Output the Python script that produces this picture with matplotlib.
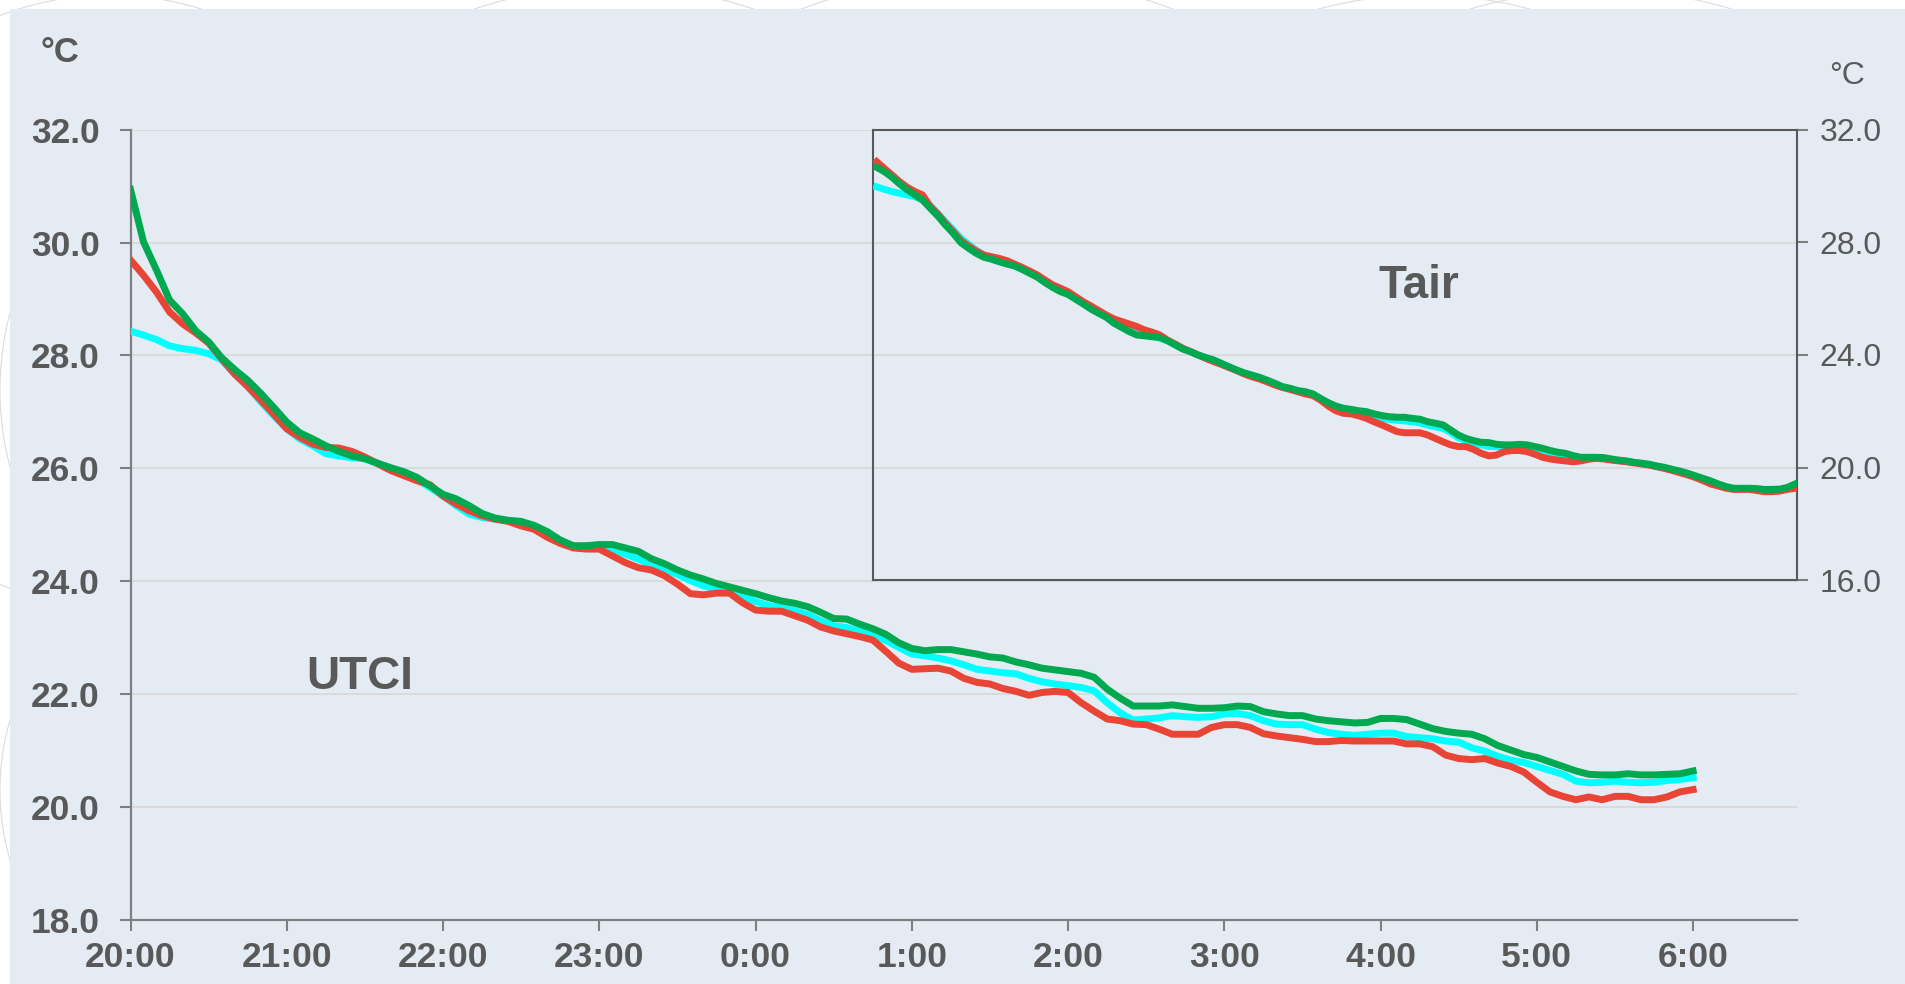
import matplotlib
matplotlib.use("Agg")
from matplotlib import pyplot as plt
from matplotlib.patches import Rectangle, Circle
from matplotlib.transforms import IdentityTransform

# minutes after 20:00, one reading every 5 minutes
minutes = list(range(0, 605, 5))
hour_ticks = [0, 60, 120, 180, 240, 300, 360, 420, 480, 540, 600]
hour_labels = ["20:00", "21:00", "22:00", "23:00", "0:00", "1:00", "2:00", "3:00", "4:00", "5:00", "6:00"]

utci_cyan = [28.43, 28.36, 28.28, 28.17, 28.12, 28.09, 28.03, 27.92, 27.67, 27.45, 27.18, 26.93, 26.70, 26.52, 26.40, 26.26, 26.22, 26.19, 26.17, 26.08,
             25.97, 25.90, 25.80, 25.66, 25.51, 25.34, 25.19, 25.13, 25.10, 25.07, 25.02, 24.95, 24.82, 24.70, 24.61, 24.61, 24.61, 24.57, 24.48, 24.39,
             24.30, 24.21, 24.12, 24.01, 23.92, 23.86, 23.82, 23.74, 23.64, 23.57, 23.53, 23.48, 23.41, 23.30, 23.21, 23.18, 23.12, 23.04, 22.95, 22.83,
             22.71, 22.68, 22.64, 22.59, 22.52, 22.44, 22.41, 22.38, 22.36, 22.28, 22.22, 22.18, 22.15, 22.12, 22.06, 21.85, 21.67, 21.54, 21.56, 21.58,
             21.62, 21.60, 21.59, 21.60, 21.65, 21.66, 21.62, 21.53, 21.47, 21.46, 21.46, 21.38, 21.32, 21.29, 21.27, 21.29, 21.31, 21.31, 21.25, 21.23,
             21.21, 21.17, 21.15, 21.05, 20.99, 20.90, 20.83, 20.79, 20.72, 20.65, 20.58, 20.46, 20.43, 20.44, 20.46, 20.44, 20.43, 20.44, 20.47, 20.49,
             20.52]
utci_red = [29.69, 29.42, 29.12, 28.77, 28.56, 28.40, 28.22, 27.94, 27.67, 27.45, 27.21, 26.96, 26.70, 26.55, 26.43, 26.37, 26.36, 26.30, 26.20, 26.08,
            25.96, 25.87, 25.78, 25.71, 25.51, 25.37, 25.25, 25.16, 25.10, 25.06, 24.98, 24.92, 24.78, 24.67, 24.59, 24.57, 24.57, 24.45, 24.33, 24.24,
            24.20, 24.10, 23.95, 23.78, 23.76, 23.79, 23.79, 23.62, 23.49, 23.47, 23.47, 23.39, 23.31, 23.19, 23.12, 23.07, 23.02, 22.96, 22.76, 22.55,
            22.44, 22.45, 22.46, 22.41, 22.28, 22.21, 22.18, 22.10, 22.05, 21.98, 22.03, 22.05, 22.03, 21.85, 21.70, 21.56, 21.53, 21.47, 21.46, 21.38,
            21.29, 21.29, 21.29, 21.41, 21.46, 21.46, 21.41, 21.30, 21.26, 21.23, 21.20, 21.16, 21.16, 21.18, 21.17, 21.17, 21.17, 21.17, 21.12, 21.12,
            21.07, 20.92, 20.86, 20.84, 20.86, 20.78, 20.72, 20.62, 20.44, 20.27, 20.19, 20.13, 20.18, 20.13, 20.19, 20.19, 20.13, 20.13, 20.18, 20.27,
            20.31]
utci_green = [30.94, 30.01, 29.51, 28.98, 28.74, 28.44, 28.24, 27.96, 27.75, 27.56, 27.33, 27.08, 26.82, 26.63, 26.52, 26.40, 26.30, 26.22, 26.17, 26.09,
              26.01, 25.94, 25.84, 25.69, 25.54, 25.46, 25.34, 25.20, 25.12, 25.08, 25.06, 24.99, 24.88, 24.73, 24.63, 24.63, 24.65, 24.65, 24.59, 24.53,
              24.40, 24.31, 24.20, 24.11, 24.04, 23.96, 23.90, 23.84, 23.78, 23.71, 23.65, 23.61, 23.55, 23.45, 23.34, 23.33, 23.24, 23.16, 23.06, 22.91,
              22.81, 22.77, 22.79, 22.79, 22.75, 22.71, 22.66, 22.64, 22.57, 22.52, 22.46, 22.43, 22.40, 22.37, 22.30, 22.09, 21.93, 21.79, 21.79, 21.79,
              21.81, 21.78, 21.75, 21.75, 21.76, 21.79, 21.78, 21.69, 21.65, 21.62, 21.62, 21.56, 21.53, 21.51, 21.49, 21.50, 21.57, 21.57, 21.55, 21.47,
              21.39, 21.34, 21.31, 21.29, 21.21, 21.09, 21.01, 20.93, 20.88, 20.80, 20.72, 20.64, 20.58, 20.57, 20.57, 20.59, 20.57, 20.57, 20.58, 20.59,
              20.64]

tair_cyan = [29.97, 29.88, 29.80, 29.74, 29.68, 29.62, 29.50, 29.30, 29.02, 28.72, 28.44, 28.14, 27.93, 27.72, 27.55, 27.44, 27.36, 27.28, 27.19, 27.07,
             26.93, 26.79, 26.61, 26.44, 26.30, 26.19, 26.02, 25.84, 25.67, 25.52, 25.37, 25.19, 25.05, 24.92, 24.80, 24.72, 24.66, 24.60, 24.50, 24.37,
             24.22, 24.12, 24.00, 23.90, 23.80, 23.69, 23.57, 23.46, 23.35, 23.26, 23.18, 23.08, 22.97, 22.86, 22.80, 22.72, 22.66, 22.59, 22.43, 22.27,
             22.13, 22.07, 22.03, 21.96, 21.91, 21.83, 21.76, 21.71, 21.68, 21.66, 21.63, 21.59, 21.51, 21.45, 21.40, 21.25, 21.07, 20.96, 20.89, 20.81,
             20.75, 20.75, 20.75, 20.77, 20.77, 20.74, 20.69, 20.61, 20.55, 20.49, 20.46, 20.40, 20.33, 20.34, 20.35, 20.33, 20.29, 20.25, 20.22, 20.18,
             20.14, 20.10, 20.04, 19.99, 19.92, 19.85, 19.77, 19.68, 19.58, 19.47, 19.38, 19.30, 19.25, 19.25, 19.25, 19.23, 19.20, 19.20, 19.21, 19.27,
             19.36]
tair_red = [30.86, 30.62, 30.39, 30.15, 29.95, 29.80, 29.68, 29.27, 29.00, 28.67, 28.38, 28.06, 27.87, 27.69, 27.55, 27.49, 27.43, 27.35, 27.23, 27.11,
            26.98, 26.84, 26.66, 26.49, 26.37, 26.25, 26.07, 25.89, 25.74, 25.58, 25.42, 25.28, 25.19, 25.10, 25.01, 24.89, 24.81, 24.71, 24.53, 24.39,
            24.24, 24.12, 24.00, 23.88, 23.77, 23.67, 23.56, 23.45, 23.33, 23.23, 23.15, 23.05, 22.94, 22.85, 22.78, 22.70, 22.62, 22.56, 22.40, 22.19,
            22.02, 21.93, 21.91, 21.84, 21.75, 21.63, 21.52, 21.40, 21.28, 21.24, 21.24, 21.24, 21.16, 21.04, 20.92, 20.81, 20.75, 20.75, 20.65, 20.51,
            20.42, 20.45, 20.57, 20.61, 20.61, 20.57, 20.48, 20.37, 20.31, 20.27, 20.24, 20.21, 20.24, 20.30, 20.33, 20.31, 20.27, 20.24, 20.21, 20.17,
            20.13, 20.09, 20.03, 19.97, 19.90, 19.82, 19.74, 19.65, 19.54, 19.42, 19.35, 19.27, 19.23, 19.23, 19.23, 19.19, 19.15, 19.15, 19.17, 19.23,
            19.27]
tair_green = [30.66, 30.51, 30.31, 30.07, 29.86, 29.68, 29.50, 29.21, 28.93, 28.61, 28.32, 27.99, 27.79, 27.61, 27.47, 27.40, 27.31, 27.23, 27.16, 27.04,
              26.90, 26.76, 26.57, 26.40, 26.25, 26.15, 25.98, 25.81, 25.63, 25.48, 25.34, 25.13, 24.98, 24.83, 24.71, 24.68, 24.65, 24.62, 24.51, 24.36,
              24.21, 24.12, 24.00, 23.91, 23.83, 23.71, 23.59, 23.47, 23.37, 23.29, 23.21, 23.11, 23.00, 22.88, 22.82, 22.74, 22.70, 22.62, 22.46, 22.31,
              22.19, 22.11, 22.07, 22.02, 21.99, 21.91, 21.85, 21.81, 21.79, 21.79, 21.75, 21.72, 21.63, 21.58, 21.52, 21.34, 21.16, 21.04, 20.96, 20.90,
              20.89, 20.83, 20.81, 20.81, 20.83, 20.81, 20.75, 20.69, 20.61, 20.55, 20.51, 20.43, 20.37, 20.37, 20.37, 20.36, 20.31, 20.27, 20.24, 20.19,
              20.16, 20.12, 20.06, 20.01, 19.94, 19.88, 19.80, 19.71, 19.62, 19.53, 19.42, 19.33, 19.27, 19.27, 19.27, 19.26, 19.23, 19.23, 19.24, 19.30,
              19.42]

utci_ticks = [18, 20, 22, 24, 26, 28, 30, 32]
tair_ticks = [16, 20, 24, 28, 32]

CYAN = "#00FFFF"
RED = "#E94536"
GREEN = "#00A84F"
TEXT = "#595959"
AXIS = "#7F7F7F"
PANEL = "#E4EBF3"
FONT = ["Liberation Sans", "DejaVu Sans"]
LW = 5.0

plt.rcParams["font.family"] = FONT

fig = plt.figure(figsize=(19.05, 9.84), dpi=100, facecolor="white")
W, H = 1905, 984

# faint decorative rings behind the panel (pixel coords, y measured from the top)
for cx, cy, r in [(110, 300, 305), (614, 420, 434), (987, 500, 525), (1424, 400, 405),
                  (1601, 450, 460), (300, 390, 300), (250, 790, 250)]:
    fig.patches.append(Circle((cx, H - cy), r, transform=IdentityTransform(), fill=False,
                              edgecolor="#DCDCDC", linewidth=0.8, zorder=-3))
fig.patches.append(Rectangle((10 / W, 0), 1, 1 - 9 / H, transform=fig.transFigure,
                             facecolor=PANEL, edgecolor="none", zorder=-2))

# main UTCI axes
ax = fig.add_axes([130.5 / W, 1 - 920 / H, (1797.3 - 130.5) / W, (920 - 129.6) / H])
ax.set_facecolor("none")
ax.plot(minutes, utci_cyan, color=CYAN, lw=LW, solid_joinstyle="round", zorder=3)
ax.plot(minutes, utci_red, color=RED, lw=LW, solid_joinstyle="round", zorder=4)
ax.plot(minutes, utci_green, color=GREEN, lw=LW, solid_joinstyle="round", zorder=5)
ax.set_xlim(0, 640)
ax.set_ylim(18, 32)
ax.set_xticks(hour_ticks)
ax.set_xticklabels(hour_labels)
ax.set_yticks(utci_ticks)
ax.set_yticklabels(["%.1f" % t for t in utci_ticks])
ax.grid(axis="y", color="#D9D9D9", lw=1.3)
ax.set_axisbelow(True)
for s in ["top", "right"]:
    ax.spines[s].set_visible(False)
for s in ["left", "bottom"]:
    ax.spines[s].set_color(AXIS)
    ax.spines[s].set_linewidth(1.6)
ax.tick_params(axis="both", colors=AXIS, width=1.5, length=8, labelcolor=TEXT, labelsize=25.5)
ax.tick_params(axis="y", pad=14)
ax.tick_params(axis="x", pad=7)
for lab in ax.get_xticklabels() + ax.get_yticklabels():
    lab.set_fontweight("bold")
ax.text(88, 22.3, "UTCI", fontsize=33, fontweight="bold", color=TEXT, ha="center", va="center")

# inset with air temperature on its own right-hand scale
ins = fig.add_axes([873.3 / W, 1 - 580.4 / H, (1797.3 - 873.3) / W, (580.4 - 129.6) / H])
ins.set_facecolor("none")
ins.plot(minutes, tair_cyan, color=CYAN, lw=LW, solid_joinstyle="round", zorder=3)
ins.plot(minutes, tair_red, color=RED, lw=LW, solid_joinstyle="round", zorder=4)
ins.plot(minutes, tair_green, color=GREEN, lw=LW, solid_joinstyle="round", zorder=5)
ins.set_xlim(-2.2, 601.5)
ins.set_ylim(16, 32)
ins.set_xticks([])
ins.yaxis.tick_right()
ins.set_yticks(tair_ticks)
ins.set_yticklabels(["%.1f" % t for t in tair_ticks])
for s in ins.spines.values():
    s.set_color(TEXT)
    s.set_linewidth(1.5)
ins.tick_params(axis="y", colors=AXIS, width=1.5, length=8, labelcolor=TEXT, labelsize=23, pad=8)
ins.text(354, 26.45, "Tair", fontsize=33, fontweight="bold", color=TEXT, ha="center", va="center")

fig.text(60 / W, 1 - 53 / H, "°C", fontsize=25, fontweight="bold", color=TEXT, ha="center", va="center")
fig.text(1847 / W, 1 - 76 / H, "°C", fontsize=23, color=TEXT, ha="center", va="center")

fig.savefig("out.png", dpi=100, facecolor="white")
